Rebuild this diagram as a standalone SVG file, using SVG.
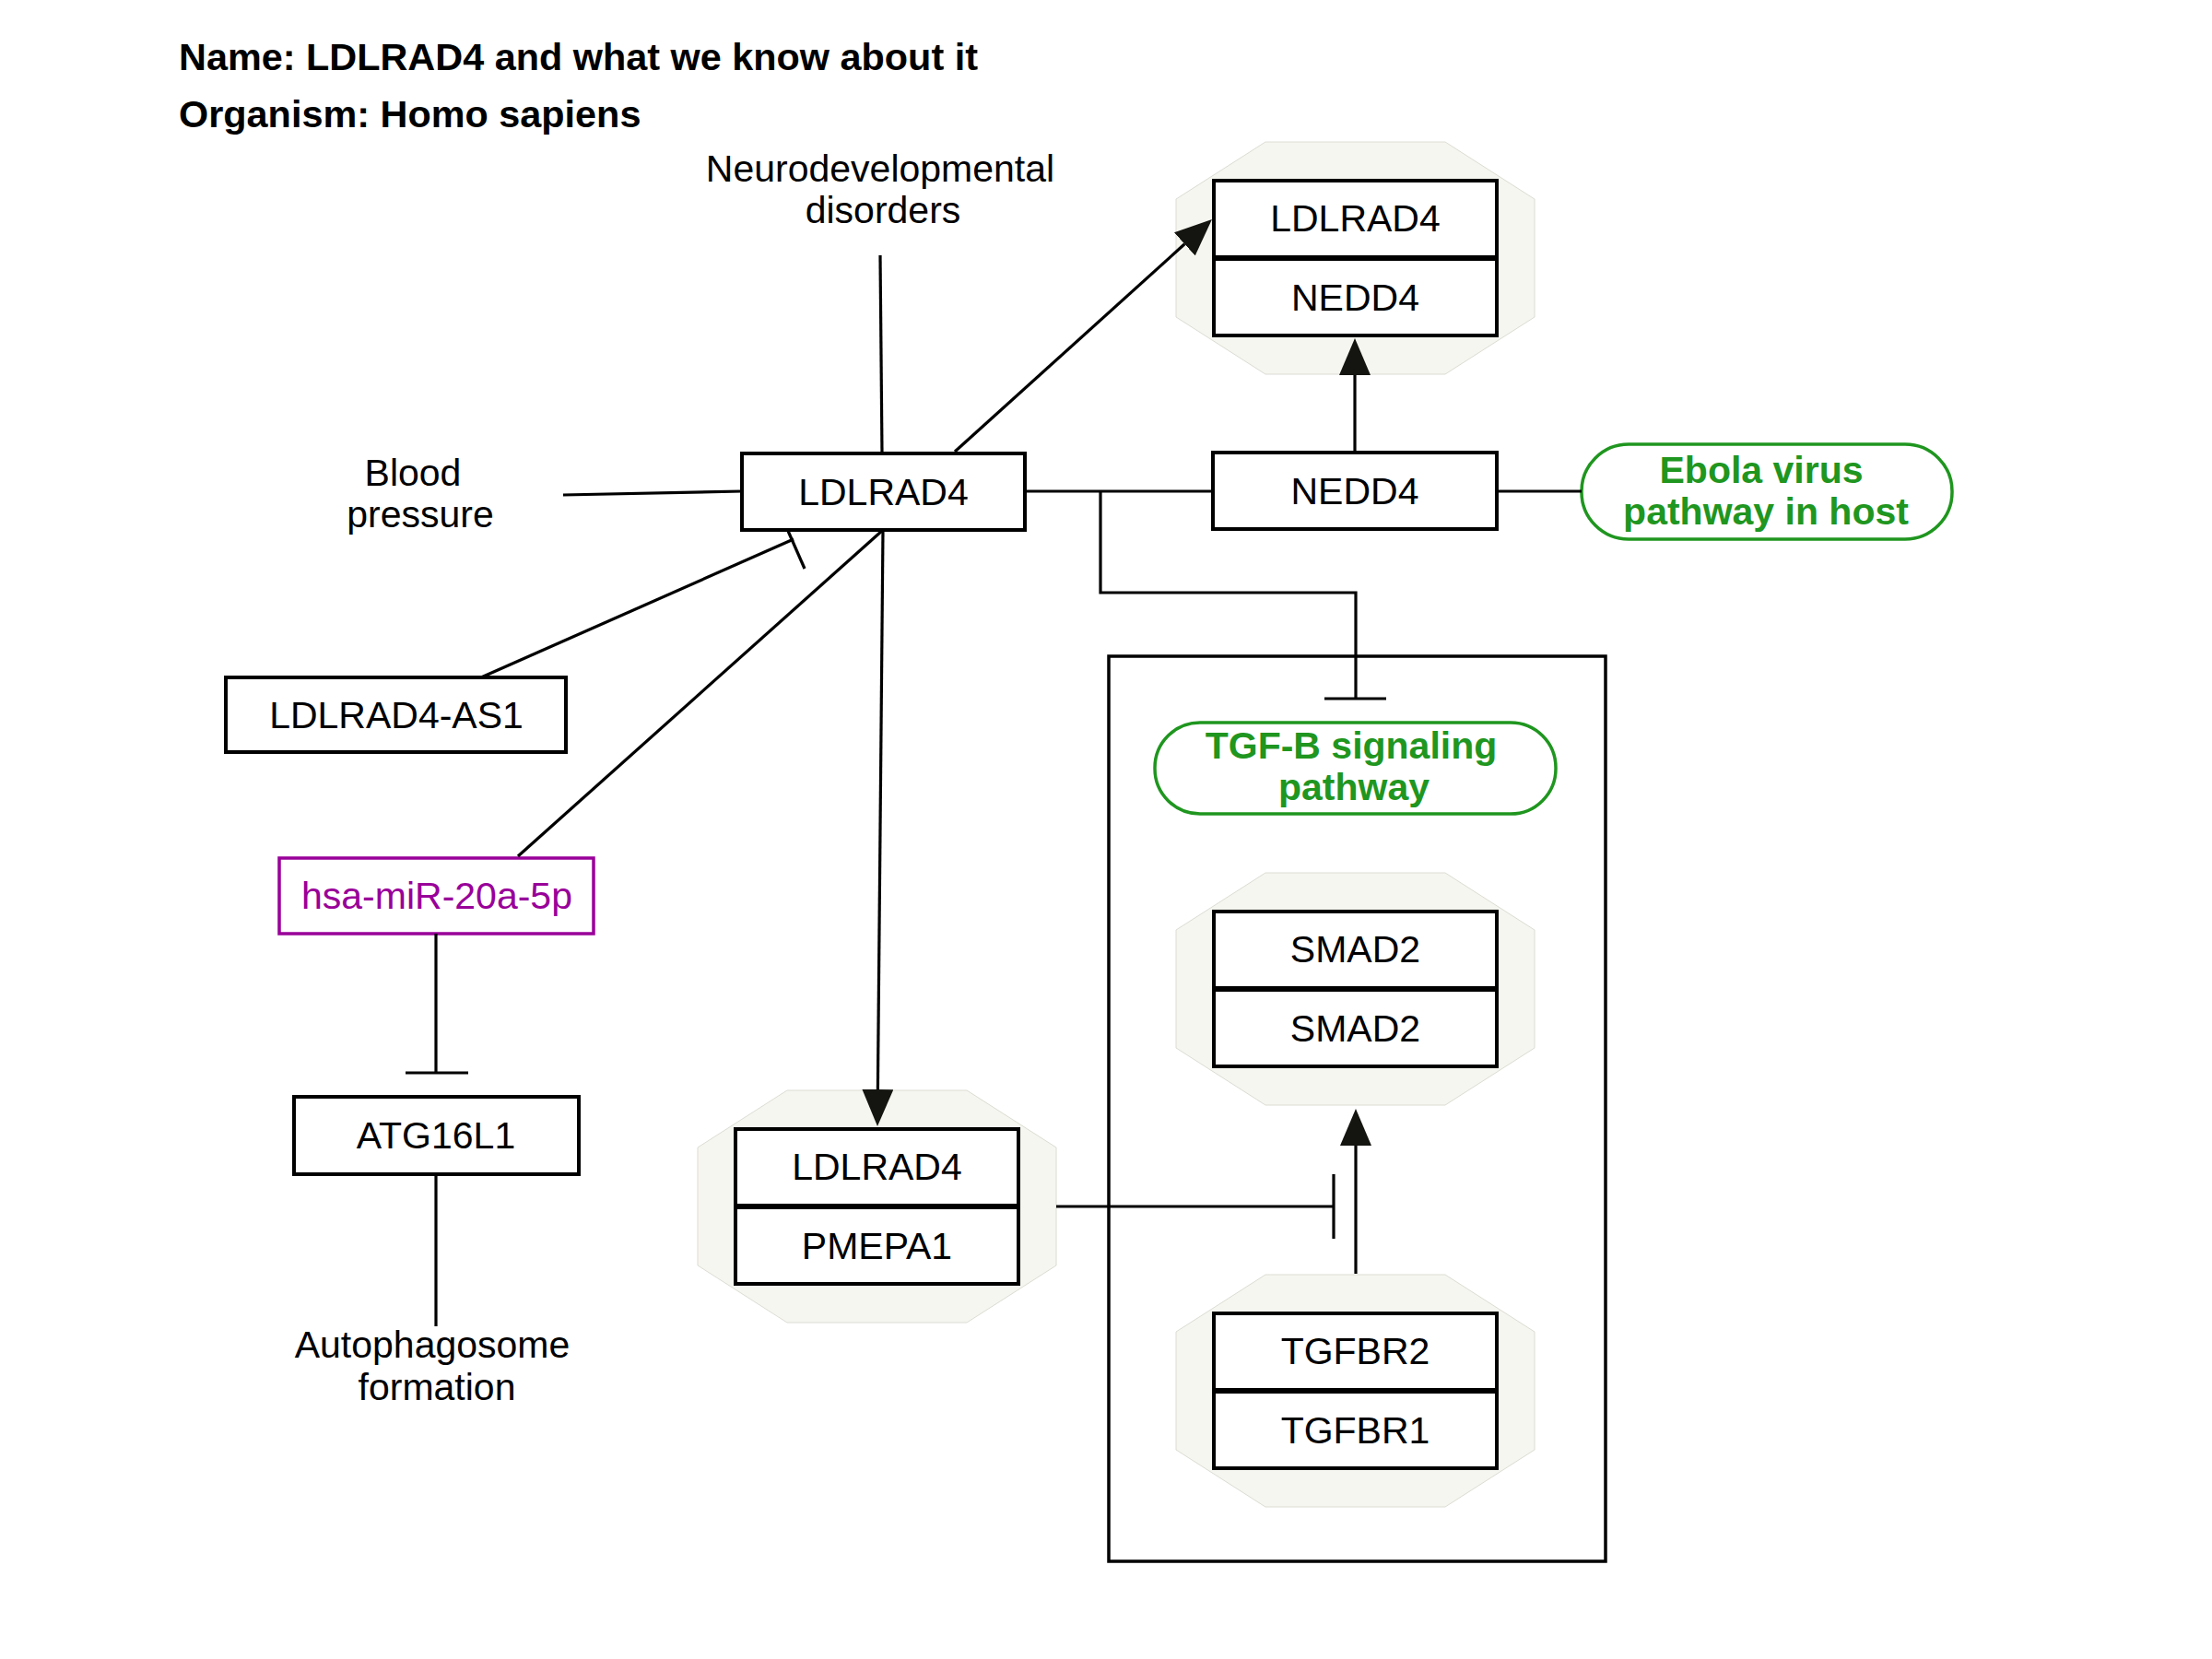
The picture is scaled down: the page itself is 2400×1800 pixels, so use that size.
<svg xmlns="http://www.w3.org/2000/svg" width="2400" height="1800" viewBox="0 0 2400 1800">
  <defs>
    <style>
      text { font-family: "Liberation Sans", Arial, sans-serif; font-size: 41px; fill: #000; }
      .title { font-weight: bold; font-size: 41.4px; }
      .label { text-anchor: middle; }
      .box { fill: #fff; stroke: #000; stroke-width: 4; }
      .mirna { fill: #fff; stroke: #990099; stroke-width: 3.5; }
      .mirna-t { fill: #990099; }
      .pathway { fill: #fff; stroke: #1f961f; stroke-width: 3.5; }
      .pathway-t { fill: #1f961f; font-weight: bold; text-anchor: middle; }
      .complex { fill: #f6f6f0; stroke: #dcdcd4; stroke-width: 1; }
      .group { fill: none; stroke: #000; stroke-width: 3.5; }
      .edge { fill: none; stroke: #000; stroke-width: 3.2; }
      .arrow { marker-end: url(#arrowhead); }
    </style>
    <marker id="arrowhead" markerUnits="userSpaceOnUse" viewBox="0 0 40 34" markerWidth="40" markerHeight="34" refX="0" refY="17" orient="auto">
      <path d="M0,0 L40,17 L0,34 Z" fill="#141410"/>
    </marker>
    <polygon id="octagon" points="97,0 292,0 389,62 389,190 292,252 97,252 0,190 0,62"/>
  </defs>

  <!-- header -->
  <g id="header">
    <text class="title" x="194" y="76">Name: LDLRAD4 and what we know about it</text>
    <text class="title" x="194" y="138">Organism: Homo sapiens</text>
  </g>

  <!-- pathway group frame -->
  <g id="tgfb-group">
    <rect class="group" x="1203" y="712" width="539" height="982"/>
  </g>

  <!-- free labels -->
  <g id="neurodevelopmental-disorders">
    <text class="label" x="955" y="197">Neurodevelopmental</text>
    <text class="label" x="958" y="242">disorders</text>
  </g>
  <g id="blood-pressure">
    <text class="label" x="448" y="527">Blood</text>
    <text class="label" x="456" y="572">pressure</text>
  </g>
  <g id="autophagosome-formation">
    <text class="label" x="469" y="1473">Autophagosome</text>
    <text class="label" x="474" y="1519">formation</text>
  </g>

  <!-- gene products -->
  <g id="ldlrad4">
    <rect class="box" x="805" y="492" width="307" height="83"/>
    <text class="label" x="958.5" y="548">LDLRAD4</text>
  </g>
  <g id="nedd4">
    <rect class="box" x="1316" y="491" width="308" height="83"/>
    <text class="label" x="1470" y="547">NEDD4</text>
  </g>
  <g id="ldlrad4-as1">
    <rect class="box" x="245" y="735" width="369" height="81"/>
    <text class="label" x="430" y="790">LDLRAD4-AS1</text>
  </g>
  <g id="hsa-mir-20a-5p">
    <rect class="mirna" x="303" y="931" width="341" height="82"/>
    <text class="label mirna-t" x="474" y="986">hsa-miR-20a-5p</text>
  </g>
  <g id="atg16l1">
    <rect class="box" x="319" y="1190" width="309" height="84"/>
    <text class="label" x="473" y="1246">ATG16L1</text>
  </g>

  <!-- pathway nodes -->
  <g id="ebola-pathway">
    <rect class="pathway" x="1716" y="482" width="402" height="103" rx="51" ry="51"/>
    <text class="pathway-t" x="1911" y="524">Ebola virus</text>
    <text class="pathway-t" x="1916" y="569">pathway in host</text>
  </g>
  <g id="tgfb-pathway">
    <rect class="pathway" x="1253" y="784" width="435" height="99" rx="49" ry="49"/>
    <text class="pathway-t" x="1466" y="823">TGF-B signaling</text>
    <text class="pathway-t" x="1469" y="868">pathway</text>
  </g>

  <!-- complexes -->
  <g id="complex-ldlrad4-nedd4" transform="translate(1276,154)">
    <use href="#octagon" class="complex"/>
    <rect class="box" x="41" y="42" width="307" height="83"/>
    <rect class="box" x="41" y="127" width="307" height="83"/>
    <text class="label" x="194.5" y="97">LDLRAD4</text>
    <text class="label" x="194.5" y="183">NEDD4</text>
  </g>
  <g id="complex-ldlrad4-pmepa1" transform="translate(757,1183)">
    <use href="#octagon" class="complex"/>
    <rect class="box" x="41" y="42" width="307" height="83"/>
    <rect class="box" x="41" y="127" width="307" height="83"/>
    <text class="label" x="194.5" y="97">LDLRAD4</text>
    <text class="label" x="194.5" y="183">PMEPA1</text>
  </g>
  <g id="complex-smad2" transform="translate(1276,947)">
    <use href="#octagon" class="complex"/>
    <rect class="box" x="41" y="42" width="307" height="83"/>
    <rect class="box" x="41" y="127" width="307" height="83"/>
    <text class="label" x="194.5" y="97">SMAD2</text>
    <text class="label" x="194.5" y="183">SMAD2</text>
  </g>
  <g id="complex-tgfbr" transform="translate(1276,1383)">
    <use href="#octagon" class="complex"/>
    <rect class="box" x="41" y="42" width="307" height="83"/>
    <rect class="box" x="41" y="127" width="307" height="83"/>
    <text class="label" x="194.5" y="97">TGFBR2</text>
    <text class="label" x="194.5" y="183">TGFBR1</text>
  </g>

  <!-- connectors -->
  <g id="connectors">
    <line class="edge" x1="955" y1="277" x2="957" y2="492"/>
    <line class="edge" x1="611" y1="537" x2="805" y2="533"/>
    <line class="edge" x1="522" y1="735" x2="861" y2="585"/>
    <line class="edge" x1="855" y1="576" x2="873" y2="617"/>
    <line class="edge" x1="958" y1="575" x2="562" y2="929"/>
    <line class="edge arrow" x1="958" y1="575" x2="952.4" y2="1182"/>
    <line class="edge arrow" x1="1036" y1="490" x2="1285.3" y2="264.8"/>
    <line class="edge" x1="1112" y1="533" x2="1316" y2="533"/>
    <polyline class="edge" points="1194,533 1194,643 1471,643 1471,758"/>
    <line class="edge" x1="1437" y1="758" x2="1504" y2="758"/>
    <line class="edge arrow" x1="1470" y1="491" x2="1470" y2="407"/>
    <line class="edge" x1="1624" y1="533" x2="1716" y2="533"/>
    <line class="edge" x1="473" y1="1013" x2="473" y2="1164"/>
    <line class="edge" x1="440" y1="1164" x2="508" y2="1164"/>
    <line class="edge" x1="473" y1="1274" x2="473" y2="1439"/>
    <line class="edge" x1="1146" y1="1309" x2="1447" y2="1309"/>
    <line class="edge" x1="1447" y1="1274" x2="1447" y2="1344"/>
    <line class="edge arrow" x1="1471" y1="1382" x2="1471" y2="1243"/>
  </g>
</svg>
